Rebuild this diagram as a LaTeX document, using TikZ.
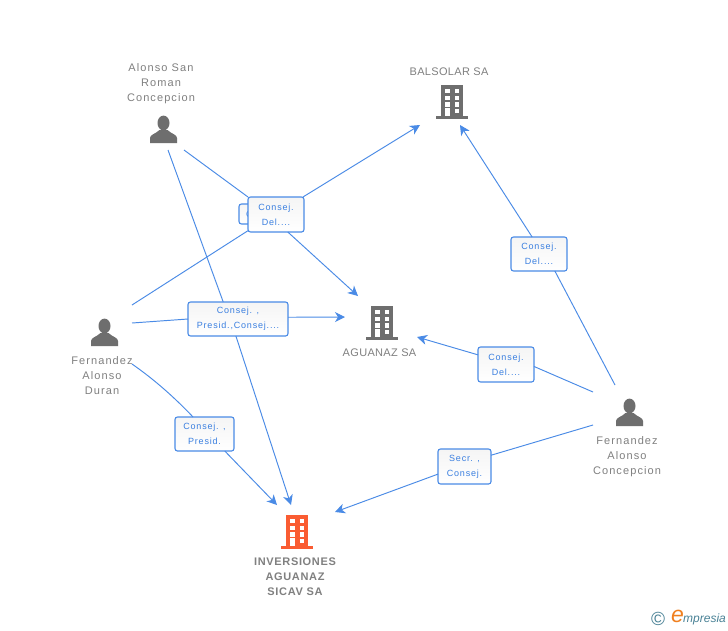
\documentclass[tikz,border=0pt]{standalone}
\usepackage{fontspec}
\setmainfont{Liberation Sans}
\newfontfamily\spacedname[LetterSpace=10]{Liberation Sans}
\newfontfamily\spacedcaps[LetterSpace=3]{Liberation Sans}
\newfontfamily\spacedbold[LetterSpace=6]{Liberation Sans Bold}
\newfontfamily\spacedlab[LetterSpace=9]{Liberation Sans}
\usetikzlibrary{arrows.meta}
\definecolor{linkblue}{HTML}{4A8BE6}
\definecolor{labblue}{HTML}{3A7FE0}
\definecolor{txtgray}{HTML}{808080}
\definecolor{icongray}{HTML}{6E6E6E}
\definecolor{iconred}{HTML}{FA5C32}
\definecolor{logoteal}{HTML}{4A8296}
\definecolor{logoorange}{HTML}{F08020}
\newcommand{\buildingicon}[2]{%
  \begin{scope}[shift={(#1)}]
    \fill[#2] (-11.2,-16) rectangle (11.2,16);
    \fill[#2] (-16,15.2) rectangle (16,18);
    \foreach \yy in {-12,-5.4,1.2}{
      \fill[white] (-6.8,\yy) rectangle ++(4.4,4.4);
      \fill[white] (2.8,\yy) rectangle ++(4.4,4.4);
    }
    \fill[white] (2.8,8) rectangle ++(4.4,4.4);
    \fill[white] (-6.8,7.4) rectangle (-2.4,15.2);
  \end{scope}}
\newcommand{\personicon}[1]{%
  \begin{scope}[shift={(#1)}]
    \fill[icongray] (0,-7) ellipse (6 and 7.4);
    \fill[icongray] (-13.5,13.2) -- (-13.5,8) .. controls (-13.5,4.5) and (-8,4) .. (-4,0)
      -- (4,0) .. controls (8,4) and (13.5,4.5) .. (13.5,8) -- (13.5,13.2) -- cycle;
  \end{scope}}
\tikzset{
  x=1pt,y=-1pt,
  link/.style={linkblue,line width=0.95pt},
  linkarrow/.style={link,-{Stealth[length=10pt,width=10pt,inset=3pt]}},
  lab/.style={draw=linkblue,line width=1.1pt,rounded corners=2.5pt,top color=gray!8,bottom color=white,
    inner sep=0pt,outer sep=0pt,align=center,text=labblue,font=\spacedlab\fontsize{9}{15}\selectfont},
  entname/.style={inner sep=0pt,align=center,text=txtgray,font=\spacedname\fontsize{11}{15}\selectfont},
  capname/.style={inner sep=0pt,align=center,text=txtgray,font=\spacedcaps\fontsize{11}{15}\selectfont},
  bname/.style={inner sep=0pt,align=center,text=txtgray,font=\spacedbold\fontsize{11}{15}\selectfont},
}
\begin{document}
\begin{tikzpicture}
\useasboundingbox[fill=white] (0,0) rectangle (728,630);
% icons
\buildingicon{452,101}{icongray}
\buildingicon{382,322}{icongray}
\buildingicon{297,531}{iconred}
\personicon{163.5,130}
\personicon{104.5,333}
\personicon{629.5,413}
% entity texts
\node[entname] (nalonso) at (161,83.5) {Alonso San\\Roman\\Concepcion};
\node[entname] (nduran) at (102,376) {Fernandez\\Alonso\\Duran};
\node[entname] (nconc) at (627,456.5) {Fernandez\\Alonso\\Concepcion};
\node[capname] (nbalsolar) at (449,72) {BALSOLAR SA};
\node[capname] (naguanaz) at (379.5,352.5) {AGUANAZ SA};
\node[bname] (ninv) at (295,577) {INVERSIONES\\AGUANAZ\\SICAV SA};
% connector ends
\coordinate (dA) at (132,305);
\coordinate (dB) at (132,323);
\coordinate (dC) at (132,364);
\coordinate (aA) at (184,150);
\coordinate (aB) at (168,150);
\coordinate (cA) at (615,385);
\coordinate (cB) at (593,392);
\coordinate (cC) at (593,425);
\coordinate (toBalL) at (420,125);
\coordinate (toBalR) at (460,125);
\coordinate (toAguT) at (358,296);
\coordinate (toAguL) at (345,317);
\coordinate (toAguR) at (417,337);
\coordinate (toInvA) at (277,505);
\coordinate (toInvB) at (291,505);
\coordinate (toInvC) at (335,512);
% label boxes
\node[lab,minimum width=54pt,minimum height=20pt,text width=50pt,align=left] (lhid) at (266,214) {\hspace{5pt}C};
\node[lab,minimum width=56pt,minimum height=35pt] (ltop) at (276,214.5) {Consej.\\Del....};
\node[lab,minimum width=100pt,minimum height=34pt] (lmid) at (238,319) {Consej. ,\\Presid.,Consej....};
\node[lab,minimum width=59pt,minimum height=34pt] (lpres) at (204.5,434) {Consej. ,\\Presid.};
\node[lab,minimum width=56pt,minimum height=34pt] (lbal) at (539,254) {Consej.\\Del....};
\node[lab,minimum width=56pt,minimum height=35pt] (lagu) at (506,364.5) {Consej.\\Del....};
\node[lab,minimum width=53pt,minimum height=35pt] (lsec) at (464.5,466.5) {Secr. ,\\Consej.};
% connectors
\draw[link] (dA) -- (ltop.210);
\draw[linkarrow] (ltop.33) -- (toBalL);
\draw[link] (aA) -- (ltop.148);
\draw[linkarrow] (ltop.-56) -- (toAguT);
\draw[link] (aB) -- (lmid.131);
\draw[linkarrow] (lmid.-97) -- (toInvB);
\draw[link] (dB) -- (lmid.180);
\draw[linkarrow] (lmid.2) -- (toAguL);
\draw[link] (dC) .. controls (155,380) and (175,398) .. (lpres.124);
\draw[linkarrow] (lpres.-40) -- (toInvA);
\draw[link] (cA) -- (lbal.-47);
\draw[linkarrow] (lbal.112) -- (toBalR);
\draw[link] (cB) -- (lagu.-4);
\draw[linkarrow] (lagu.161) -- (toAguR);
\draw[link] (cC) -- (lsec.23);
\draw[linkarrow] (lsec.196) -- (toInvC);
% logo
\node[inner sep=0pt,text=logoteal,font=\fontsize{19}{19}\selectfont] (lc) at (658,619) {©};
\node[inner sep=0pt,text=logoorange,font=\itshape\fontsize{23}{23}\selectfont] (le) at (677.5,616.5) {e};
\node[inner sep=0pt,anchor=west,text=logoteal,font=\itshape\fontsize{12}{12}\selectfont] (lm) at (683,619) {mpresia};
\end{tikzpicture}
\end{document}
